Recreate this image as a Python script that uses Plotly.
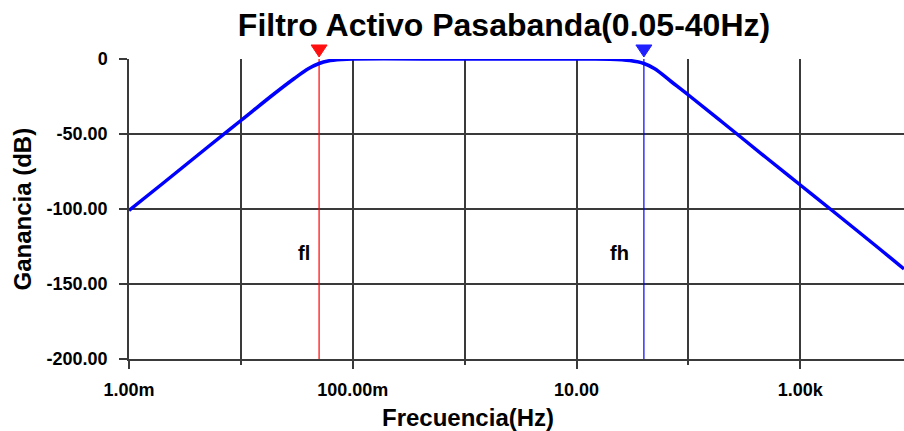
import plotly.graph_objects as go
import numpy as np

# Frequency response
freq_hz = [0.001, 0.002, 0.005, 0.01, 0.02, 0.03, 0.04, 0.05, 0.06, 0.08, 0.1,
           1.0, 10.0, 20.0, 30.0, 40.0, 50.0, 70.0, 100.0, 200.0, 500.0,
           1000.0, 2000.0, 5000.0, 8450.0]
gain_db = [-101, -83, -59, -41, -23, -13, -6.5, -3, -1.3, -0.3, 0,
           0, 0, -0.1, -1, -3, -6.5, -15, -24, -42, -66,
           -84, -102, -126, -140]

# Cursors
f_low = 0.05
f_high = 40.0
cursor_labels = ["fl", "fh"]

# Axis ticks
x_major = [0.001, 0.1, 10.0, 1000.0]
x_major_text = ["1.00m", "100.00m", "10.00", "1.00k"]
x_minor = [0.01, 1.0, 100.0]
y_ticks = [0, -50, -100, -150, -200]
y_tick_text = ["0", "-50.00", "-100.00", "-150.00", "-200.00"]

title_text = "Filtro Activo Pasabanda(0.05-40Hz)"
x_title = "Frecuencia(Hz)"
y_title = "Ganancia (dB)"

FONT = "Liberation Sans"
grid = "#3a3a3a"

X_RANGE = [-3, np.log10(8450)]
PLOT_W = 775.0
PLOT_H = 300.0

fig = go.Figure()

# cursor lines
fig.add_trace(go.Scatter(x=[f_low, f_low], y=[-200, 0], mode="lines",
                         line=dict(color="#ff0000", width=1.2), hoverinfo="skip", showlegend=False))
fig.add_trace(go.Scatter(x=[f_high, f_high], y=[-200, 0], mode="lines",
                         line=dict(color="#0000ff", width=1.2), hoverinfo="skip", showlegend=False))

# response curve
fig.add_trace(go.Scatter(x=freq_hz, y=gain_db, mode="lines", line_shape="spline",
                         line=dict(color="#0000ff", width=3.5), showlegend=False))

# cursor markers above plot (triangles as shapes)
for fx, col in [(f_low, "#ff1010"), (f_high, "#2020ff")]:
    px = (np.log10(fx) - X_RANGE[0]) / (X_RANGE[1] - X_RANGE[0])
    hw = 8 / PLOT_W
    ytop = 1 + 14 / PLOT_H
    ybot = 1 + 2 / PLOT_H
    path = "M %f,%f L %f,%f L %f,%f Z" % (px - hw, ytop, px + hw, ytop, px, ybot)
    fig.add_shape(type="path", path=path, xref="paper", yref="paper",
                  fillcolor=col, line=dict(color=col, width=1), layer="above")

# cursor text labels
for fx, lab, dx in [(f_low, cursor_labels[0], -15), (f_high, cursor_labels[1], -24)]:
    fig.add_annotation(x=np.log10(fx), y=-129, text="<b>%s</b>" % lab, showarrow=False,
                       xshift=dx, font=dict(family=FONT, size=20, color="black"))

fig.add_annotation(xref="paper", yref="paper", x=(468 - 129) / PLOT_W, y=-0.245,
                   text="<b>%s</b>" % x_title, showarrow=False,
                   font=dict(family=FONT, size=24, color="black"))
fig.add_annotation(xref="paper", yref="paper", x=(6 - 129) / PLOT_W, y=0.5, textangle=-90,
                   text="<b>%s</b>" % y_title, showarrow=False,
                   font=dict(family=FONT, size=24, color="black"))

fig.update_layout(
    width=904, height=431,
    margin=dict(l=129, r=0, t=59, b=72),
    paper_bgcolor="white", plot_bgcolor="white",
    title=dict(text="<b>%s</b>" % title_text, x=504 / 904, xanchor="center",
               y=1 - 25 / 431, yanchor="middle", yref="container",
               font=dict(family=FONT, size=32, color="black")),
    xaxis=dict(type="log", range=X_RANGE,
               tickmode="array", tickvals=x_major, ticktext=x_major_text,
               ticks="outside", ticklen=8, tickwidth=1.5, tickcolor=grid,
               showgrid=True, gridcolor=grid, gridwidth=1.5,
               minor=dict(tickmode="array", tickvals=x_minor, ticks="outside",
                          ticklen=4, tickwidth=1.5, tickcolor=grid,
                          showgrid=True, gridcolor=grid, gridwidth=1.5),
               showline=True, linecolor=grid, linewidth=1.5,
               zeroline=False, ticklabelstandoff=6,
               tickfont=dict(family=FONT, size=18, color="black", weight="bold")),
    yaxis=dict(range=[-200, 0], tickmode="array", tickvals=y_ticks, ticktext=y_tick_text,
               ticks="outside", ticklen=8, tickwidth=1.5, tickcolor=grid,
               showgrid=True, gridcolor=grid, gridwidth=1.5,
               showline=True, linecolor=grid, linewidth=1.5, zeroline=False,
               ticklabelstandoff=8,
               tickfont=dict(family=FONT, size=18, color="black", weight="bold")),
)

fig.write_html("out.html", config={"displayModeBar": False},
               post_script="document.body.style.margin='0';")
